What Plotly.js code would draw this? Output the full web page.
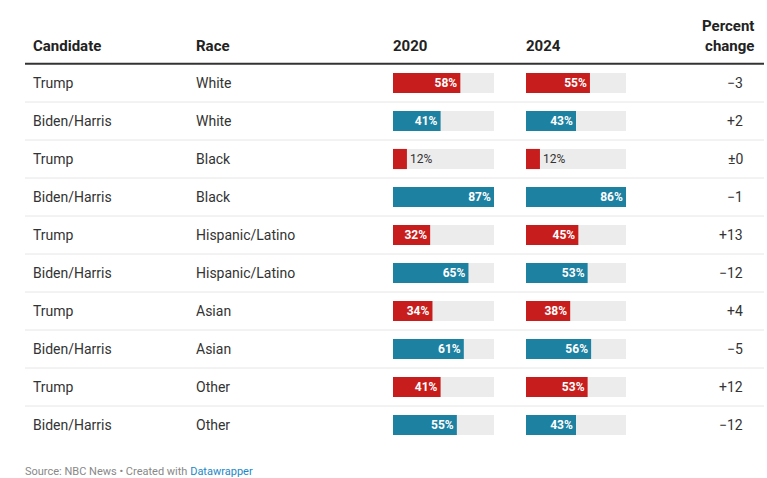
<!DOCTYPE html>
<html>
<head>
<meta charset="utf-8">
<script src="https://cdn.plot.ly/plotly-3.0.1.min.js"></script>
<style>html,body{margin:0;padding:0;background:#fff;}#chart{width:767px;height:478px;}</style>
</head>
<body>
<div id="chart"></div>
<script>
const candidates = ["Trump","Biden/Harris","Trump","Biden/Harris","Trump","Biden/Harris","Trump","Biden/Harris","Trump","Biden/Harris"];
const races = ["White","White","Black","Black","Hispanic/Latino","Hispanic/Latino","Asian","Asian","Other","Other"];
const v2020 = [58,41,12,87,32,65,34,61,41,55];
const v2024 = [55,43,12,86,45,53,38,56,53,43];
const changes = ["\u22123","+2","\u00b10","\u22121","+13","\u221212","+4","\u22125","+12","\u221212"];
const headers = ["Candidate","Race","2020","2024","Percent<br>change"];

const W = 767, H = 478;
const px = x => x / W;
const py = y => 1 - y / H;
const RED = "#c71e1d", BLUE = "#1d81a2", TRACK = "#ececec";
const FONT = "Roboto, 'Noto Sans', sans-serif";

const rows = candidates.map((_, i) => i);
const colors = candidates.map(c => c === "Trump" ? RED : BLUE);
const max20 = Math.max(...v2020), max24 = Math.max(...v2024);

function barTraces(vals, max, xa) {
  return [
    {type:"bar", orientation:"h", x: rows.map(() => max), y: rows, xaxis: xa, yaxis:"y",
     marker:{color:TRACK}, width:0.53, hoverinfo:"skip", showlegend:false},
    {type:"bar", orientation:"h", x: vals, y: rows, xaxis: xa, yaxis:"y",
     marker:{color:colors}, width:0.53, showlegend:false, cliponaxis:false,
     text: vals.map(v => v + "%"), textposition:"auto", constraintext:"none",
     insidetextanchor:"end",
     insidetextfont:{family:FONT, size:12, color:"#ffffff", weight:700},
     outsidetextfont:{family:FONT, size:12, color:"#333333"},
     hoverinfo:"skip"}
  ];
}

const data = [...barTraces(v2020, max20, "x"), ...barTraces(v2024, max24, "x2")];

const annotations = [];
const headX = [31, 194, 391, 524];
headers.slice(0,4).forEach((h, k) => annotations.push({
  xref:"paper", yref:"paper", x: px(headX[k]), y: py(57), xanchor:"left", yanchor:"bottom",
  text: h, showarrow:false, font:{family:FONT, size:15, color:"#222", weight:700}
}));
annotations.push({xref:"paper", yref:"paper", x: px(756), y: py(57), xanchor:"right", yanchor:"bottom",
  align:"right", text: headers[4], showarrow:false,
  font:{family:FONT, size:15, color:"#222", weight:700}});

rows.forEach(i => {
  annotations.push({xref:"paper", yref:"y", x:px(31), y:i, xanchor:"left", yanchor:"middle",
    text:candidates[i], showarrow:false, font:{family:FONT, size:14, color:"#333"}});
  annotations.push({xref:"paper", yref:"y", x:px(194), y:i, xanchor:"left", yanchor:"middle",
    text:races[i], showarrow:false, font:{family:FONT, size:14, color:"#333"}});
  annotations.push({xref:"paper", yref:"y", x:px(745), y:i, xanchor:"right", yanchor:"middle",
    text:changes[i], showarrow:false, font:{family:FONT, size:14, color:"#333"}});
});

annotations.push({xref:"paper", yref:"paper", x:px(23), y:py(471), xanchor:"left", yanchor:"middle",
  text:"Source: NBC News \u2022 Created with <span style='color:#1d88c8'>Datawrapper</span>",
  showarrow:false, font:{family:FONT, size:11, color:"#888"}});

const shapes = [];
for (let i = 0; i < rows.length - 1; i++) {
  shapes.push({type:"line", xref:"paper", yref:"y", x0:px(25), x1:px(764), y0:i+0.5, y1:i+0.5,
    line:{color:"#e6e6e6", width:1}});
}
shapes.push({type:"line", xref:"paper", yref:"paper", x0:px(25), x1:px(764), y0:py(63.7), y1:py(63.7),
  line:{color:"#333", width:2}});

const layout = {
  width: W, height: H,
  margin:{l:0, r:0, t:0, b:0},
  paper_bgcolor:"#fff", plot_bgcolor:"rgba(0,0,0,0)",
  barmode:"overlay",
  font:{family:FONT},
  xaxis:{domain:[px(393), px(494)], range:[0, max20], visible:false, fixedrange:true},
  xaxis2:{domain:[px(526), px(626)], range:[0, max24], visible:false, fixedrange:true, anchor:"y"},
  yaxis:{domain:[py(444), py(64)], range:[9.5, -0.5], visible:false, fixedrange:true},
  annotations, shapes, showlegend:false
};

Plotly.newPlot("chart", data, layout, {staticPlot:true, displayModeBar:false});
</script>
</body>
</html>
